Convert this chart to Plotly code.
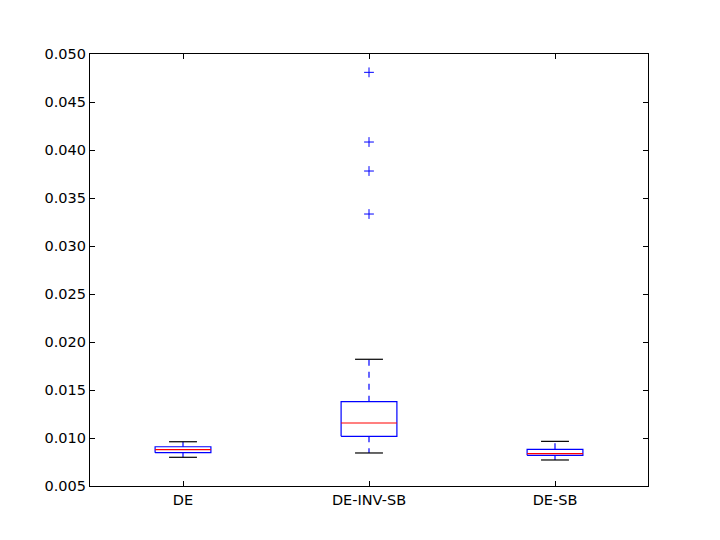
import plotly.graph_objects as go

categories = ["DE", "DE-INV-SB", "DE-SB"]
lower_whisker = [0.00799, 0.00844, 0.00771]
q1 = [0.00847, 0.01017, 0.00820]
median = [0.00878, 0.01156, 0.00837]
q3 = [0.00909, 0.01378, 0.00882]
upper_whisker = [0.00961, 0.01820, 0.00965]
outlier_cat = ["DE-INV-SB", "DE-INV-SB", "DE-INV-SB", "DE-INV-SB"]
outlier_val = [0.04809, 0.04083, 0.03781, 0.03333]
y_ticks = [0.005, 0.010, 0.015, 0.020, 0.025, 0.030, 0.035, 0.040, 0.045, 0.050]

BOX_W = 0.3
CAP_W = 0.15
BLUE = "#0000ff"

fig = go.Figure()
pos = {c: i + 1 for i, c in enumerate(categories)}

for i, c in enumerate(categories):
    p = pos[c]
    # box
    fig.add_trace(go.Scatter(
        x=[p - BOX_W / 2, p + BOX_W / 2, p + BOX_W / 2, p - BOX_W / 2, p - BOX_W / 2],
        y=[q1[i], q1[i], q3[i], q3[i], q1[i]],
        mode="lines", line=dict(color=BLUE, width=1.2), hoverinfo="skip", showlegend=False))
    # whiskers
    fig.add_trace(go.Scatter(
        x=[p, p, None, p, p],
        y=[q3[i], upper_whisker[i], None, q1[i], lower_whisker[i]],
        mode="lines", line=dict(color=BLUE, width=1.2, dash="6px,6px"),
        hoverinfo="skip", showlegend=False))
    # caps
    fig.add_trace(go.Scatter(
        x=[p - CAP_W / 2, p + CAP_W / 2, None, p - CAP_W / 2, p + CAP_W / 2],
        y=[upper_whisker[i], upper_whisker[i], None, lower_whisker[i], lower_whisker[i]],
        mode="lines", line=dict(color="black", width=1.2), hoverinfo="skip", showlegend=False))
    # median
    fig.add_trace(go.Scatter(
        x=[p - BOX_W / 2, p + BOX_W / 2], y=[median[i], median[i]],
        mode="lines", line=dict(color="#ff0000", width=1.2), hoverinfo="skip", showlegend=False))

fig.add_trace(go.Scatter(
    x=[pos[c] for c in outlier_cat], y=outlier_val, mode="markers",
    marker=dict(symbol="cross-thin", size=7, line=dict(color=BLUE, width=1), color=BLUE),
    showlegend=False))

axis_common = dict(
    showline=True, linecolor="black", linewidth=1.2, mirror="ticks",
    ticks="inside", ticklen=5, tickwidth=1, tickcolor="black",
    showgrid=False, zeroline=False,
    tickfont=dict(family="DejaVu Sans", size=14.5, color="black"),
)

fig.update_layout(
    width=720, height=540,
    margin=dict(l=82, r=80, t=46, b=62),
    paper_bgcolor="white", plot_bgcolor="white",
    xaxis=dict(range=[0.5, 3.5], tickvals=[1, 2, 3], ticktext=categories, **axis_common),
    yaxis=dict(range=[0.005, 0.050], tickvals=y_ticks, ticktext=[f"{v:.3f}" for v in y_ticks], **axis_common),
)

fig.write_html("out.html")
